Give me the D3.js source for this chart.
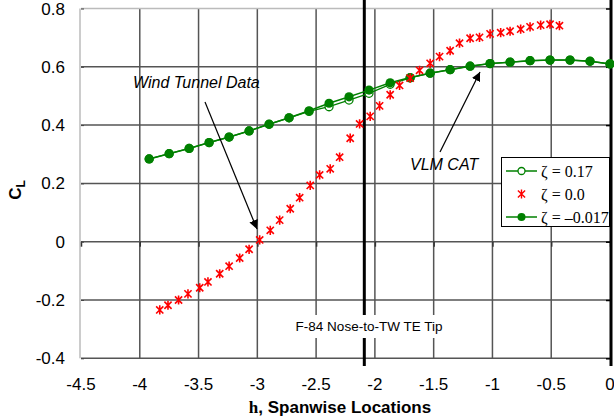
<!DOCTYPE html>
<html><head><meta charset="utf-8">
<script src="https://cdn.jsdelivr.net/npm/d3@7"></script>
<style>body{margin:0;background:#fff}svg{display:block}</style>
</head><body><svg id="c" width="614" height="420"></svg>
<script>
// ---- data ----
const xTicks = [-4.5,-4,-3.5,-3,-2.5,-2,-1.5,-1,-0.5,0];
const xTickLabels = ["-4.5","-4","-3.5","-3","-2.5","-2","-1.5","-1","-0.5","0"];
const yTicks = [-0.4,-0.2,0,0.2,0.4,0.6,0.8];
const yTickLabels = ["-0.4","-0.2","0","0.2","0.4","0.6","0.8"];

// zeta = -0.017 (filled circles)
const hFilled = [-3.92,-3.75,-3.58,-3.41,-3.24,-3.07,-2.90,-2.73,-2.56,-2.39,-2.22,-2.05,-1.87,-1.70,-1.53,-1.36,-1.19,-1.02,-0.85,-0.68,-0.51,-0.34,-0.17,0.0];
const clFilled = [0.284,0.302,0.320,0.340,0.359,0.380,0.403,0.425,0.449,0.475,0.497,0.520,0.545,0.563,0.578,0.590,0.602,0.611,0.616,0.621,0.623,0.623,0.619,0.610];
// zeta = 0.17 (open circles)
const hOpen = [-3.92,-3.75,-3.58,-3.41,-3.24,-3.07,-2.90,-2.73,-2.56,-2.39,-2.22,-2.05,-1.87,-1.70,-1.53,-1.36,-1.19,-1.02,-0.85,-0.68,-0.51,-0.34,-0.17,0.0];
const clOpen = [0.284,0.302,0.320,0.340,0.359,0.380,0.403,0.425,0.447,0.463,0.486,0.509,0.540,0.562,0.578,0.590,0.602,0.611,0.616,0.621,0.623,0.623,0.619,0.610];
// zeta = 0.0 (wind tunnel, asterisks)
const hWT = [-3.83,-3.76,-3.67,-3.59,-3.49,-3.42,-3.32,-3.24,-3.15,-3.07,-2.98,-2.89,-2.81,-2.72,-2.64,-2.55,-2.47,-2.38,-2.30,-2.21,-2.13,-2.04,-1.96,-1.87,-1.79,-1.70,-1.62,-1.53,-1.45,-1.36,-1.28,-1.19,-1.11,-1.02,-0.93,-0.85,-0.76,-0.68,-0.59,-0.51,-0.43];
const clWT = [-0.234,-0.218,-0.200,-0.179,-0.158,-0.138,-0.110,-0.084,-0.056,-0.026,0.006,0.039,0.074,0.113,0.151,0.193,0.229,0.250,0.290,0.355,0.404,0.430,0.466,0.504,0.536,0.561,0.588,0.612,0.635,0.655,0.681,0.698,0.701,0.713,0.717,0.722,0.729,0.737,0.743,0.746,0.741];

const noseLine = -2.09;
const legendLabels = ["\u03B6 = 0.17","\u03B6 = 0.0","\u03B6 = \u20130.017"];

// ---- drawing ----
const svg = d3.select("#c");
const x = d3.scaleLinear().domain([-4.5,0]).range([81,610]);
const y = d3.scaleLinear().domain([-0.4,0.8]).range([358.3,8.5]);
const green = "#008000", red = "#ff0000";

// grid
const g = svg.append("g");
g.selectAll(".vg").data(xTicks.slice(1,-1)).join("line")
  .attr("x1",d=>x(d)).attr("x2",d=>x(d)).attr("y1",y(0.8)).attr("y2",y(-0.4))
  .attr("stroke","#555").attr("stroke-width",1.5);
g.selectAll(".hg").data(yTicks).join("line")
  .attr("x1",x(-4.5)).attr("x2",x(0)).attr("y1",d=>y(d)).attr("y2",d=>y(d))
  .attr("stroke",d=>d===0.8?"#bbb":"#555").attr("stroke-width",1.5);
// left axis line
g.append("line").attr("x1",x(-4.5)-1).attr("x2",x(-4.5)-1).attr("y1",y(0.8)).attr("y2",y(-0.4))
  .attr("stroke","#999").attr("stroke-width",1);

// x axis ticks on y=0
const xa = svg.append("g").attr("transform",`translate(0,${y(0)})`)
  .call(d3.axisBottom(x).tickValues(xTicks).tickSize(5).tickFormat(""));
xa.select(".domain").remove();
xa.selectAll("line").attr("stroke","#333").attr("stroke-width",1.5);
// y axis ticks at left
const ya = svg.append("g").attr("transform",`translate(${x(-4.5)},0)`)
  .call(d3.axisRight(y).tickValues(yTicks).tickSize(3).tickFormat(""));
ya.select(".domain").remove();
ya.selectAll("line").attr("stroke","#444");

// tick labels
svg.append("g").selectAll("text").data(xTicks).join("text")
  .attr("x",d=>x(d)).attr("y",390).attr("text-anchor","middle")
  .attr("font-family","Liberation Sans, Arial, sans-serif").attr("font-size",17)
  .text((d,i)=>xTickLabels[i]);
svg.append("g").selectAll("text").data(yTicks).join("text")
  .attr("x",65).attr("y",d=>y(d)+6).attr("text-anchor","end")
  .attr("font-family","Liberation Sans, Arial, sans-serif").attr("font-size",17)
  .text((d,i)=>yTickLabels[i]);

// axis titles
const xt = svg.append("text").attr("x",340).attr("y",413).attr("text-anchor","middle")
  .attr("font-family","Liberation Sans, Arial, sans-serif").attr("font-size",17).attr("font-weight","bold");
xt.append("tspan").attr("font-family","Liberation Serif, Times New Roman, serif").text("h");
xt.append("tspan").text(", Spanwise Locations");
const yt = svg.append("text").attr("transform","translate(21,190) rotate(-90)").attr("text-anchor","middle")
  .attr("font-family","Liberation Sans, Arial, sans-serif").attr("font-size",17).attr("font-weight","bold");
yt.append("tspan").text("C");
yt.append("tspan").attr("font-size",12).attr("dy",4).text("L");

// thick vertical lines
svg.append("line").attr("x1",x(noseLine)).attr("x2",x(noseLine)).attr("y1",0).attr("y2",366)
  .attr("stroke","#000").attr("stroke-width",3);
svg.append("line").attr("x1",x(0)+1).attr("x2",x(0)+1).attr("y1",0).attr("y2",366)
  .attr("stroke","#000").attr("stroke-width",3);
const ra = svg.append("g").attr("transform",`translate(${x(0)},0)`)
  .call(d3.axisLeft(y).tickValues(yTicks).tickSize(4).tickFormat(""));
ra.select(".domain").remove();
ra.selectAll("line").attr("stroke","#000").attr("stroke-width",1.5);

// series
const line = d3.line().x(d=>x(d[0])).y(d=>y(d[1]));
const openData = hOpen.map((h,i)=>[h,clOpen[i]]);
const filledData = hFilled.map((h,i)=>[h,clFilled[i]]);
const wtData = hWT.map((h,i)=>[h,clWT[i]]);

svg.append("path").datum(openData).attr("d",line).attr("fill","none").attr("stroke",green).attr("stroke-width",1.3);
svg.append("g").selectAll("circle").data(openData).join("circle")
  .attr("cx",d=>x(d[0])).attr("cy",d=>y(d[1])).attr("r",4)
  .attr("fill","#fff").attr("stroke",green).attr("stroke-width",1.3);
svg.append("path").datum(filledData).attr("d",line).attr("fill","none").attr("stroke",green).attr("stroke-width",1.5);
svg.append("g").selectAll("circle").data(filledData).join("circle")
  .attr("cx",d=>x(d[0])).attr("cy",d=>y(d[1])).attr("r",4.6).attr("fill",green);

const star = "M-3.6,-3.6L3.6,3.6M-3.6,3.6L3.6,-3.6M0,-4.6L0,4.6";
svg.append("g").selectAll("path").data(wtData).join("path")
  .attr("transform",d=>`translate(${x(d[0])},${y(d[1])})`).attr("d",star)
  .attr("stroke",red).attr("stroke-width",1.6).attr("fill","none");

// nose label
svg.append("rect").attr("x",292).attr("y",315).attr("width",154).attr("height",23).attr("fill","#fff");
svg.append("text").attr("x",369).attr("y",331).attr("text-anchor","middle")
  .attr("font-family","Liberation Sans, Arial, sans-serif").attr("font-size",13.5)
  .text("F-84 Nose-to-TW TE Tip");

// annotations
svg.append("defs").append("marker").attr("id","ah").attr("viewBox","0 0 10 10")
  .attr("refX",10).attr("refY",5).attr("markerWidth",9).attr("markerHeight",9)
  .attr("markerUnits","userSpaceOnUse").attr("orient","auto")
  .append("path").attr("d","M0,0L10,5L0,10z").attr("fill","#000");
svg.append("text").attr("x",133).attr("y",88)
  .attr("font-family","Liberation Sans, Arial, sans-serif").attr("font-size",16).attr("font-style","italic")
  .text("Wind Tunnel Data");
svg.append("line").attr("x1",205).attr("y1",102).attr("x2",257).attr("y2",229)
  .attr("stroke","#000").attr("stroke-width",1.2).attr("marker-end","url(#ah)");
svg.append("text").attr("x",410).attr("y",170)
  .attr("font-family","Liberation Sans, Arial, sans-serif").attr("font-size",16).attr("font-style","italic")
  .text("VLM CAT");
svg.append("line").attr("x1",440).attr("y1",152).attr("x2",480).attr("y2",72)
  .attr("stroke","#000").attr("stroke-width",1.2).attr("marker-end","url(#ah)");

// legend
const lg = svg.append("g");
lg.append("rect").attr("x",501.5).attr("y",157.5).attr("width",108).attr("height",69)
  .attr("fill","#fff").attr("stroke","#000").attr("stroke-width",1);
const ly = [171,194,217];
[0,1,2].forEach(i=>{
  if(i!==1) lg.append("line").attr("x1",506).attr("x2",537).attr("y1",ly[i]).attr("y2",ly[i]).attr("stroke",green).attr("stroke-width",1.5);
  if(i===0) lg.append("circle").attr("cx",521.5).attr("cy",ly[i]).attr("r",3.5).attr("fill","#fff").attr("stroke",green).attr("stroke-width",1.3);
  if(i===2) lg.append("circle").attr("cx",521.5).attr("cy",ly[i]).attr("r",4).attr("fill",green);
  if(i===1) lg.append("path").attr("transform",`translate(521.5,${ly[i]})`).attr("d",star).attr("stroke",red).attr("stroke-width",1.4).attr("fill","none");
  lg.append("text").attr("x",541).attr("y",ly[i]+5.5)
    .attr("font-family","Liberation Serif, Times New Roman, serif").attr("font-size",16)
    .text(legendLabels[i]);
});
</script></body></html>
